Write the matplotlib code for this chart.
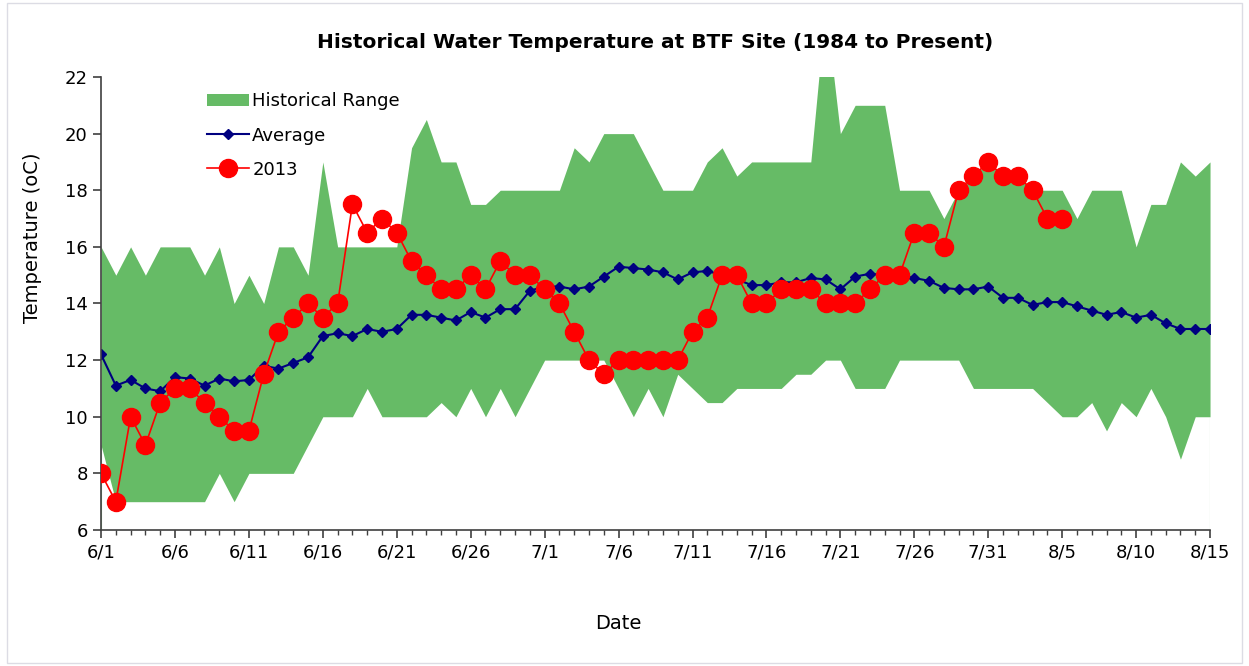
import matplotlib
matplotlib.use("Agg")
import matplotlib.pyplot as plt
import numpy as np
from matplotlib.patches import Rectangle

# days since 6/1 (6/1 .. 8/15)
days = np.arange(76)
tick_labels = ["6/1", "6/6", "6/11", "6/16", "6/21", "6/26", "7/1", "7/6",
               "7/11", "7/16", "7/21", "7/26", "7/31", "8/5", "8/10", "8/15"]

hist_low = [9, 7, 7, 7, 7, 7, 7, 7, 8, 7, 8, 8, 8, 8, 9, 10, 10, 10, 11, 10,
            10, 10, 10, 10.5, 10, 11, 10, 11, 10, 11, 12, 12, 12, 12, 12, 11, 10, 11, 10, 11.5,
            11, 10.5, 10.5, 11, 11, 11, 11, 11.5, 11.5, 12, 12, 11, 11, 11, 12, 12, 12, 12, 12, 11,
            11, 11, 11, 11, 10.5, 10, 10, 10.5, 9.5, 10.5, 10, 11, 10, 8.5, 10, 10]
hist_high = [16, 15, 16, 15, 16, 16, 16, 15, 16, 14, 15, 14, 16, 16, 15, 19, 16, 16, 16, 16,
             16, 19.5, 20.5, 19, 19, 17.5, 17.5, 18, 18, 18, 18, 18, 19.5, 19, 20, 20, 20, 19, 18, 18,
             18, 19, 19.5, 18.5, 19, 19, 19, 19, 19, 24.5, 20, 21, 21, 21, 18, 18, 18, 17, 18, 18.5,
             19, 18.5, 18.5, 18, 18, 18, 17, 18, 18, 18, 16, 17.5, 17.5, 19, 18.5, 19]
average = [12.2, 11.1, 11.3, 11.0, 10.9, 11.4, 11.35, 11.1, 11.35, 11.25, 11.3, 11.8, 11.7, 11.9,
           12.1, 12.85, 12.95, 12.85, 13.1, 13.0, 13.1, 13.6, 13.6, 13.5, 13.4, 13.7, 13.5, 13.8,
           13.8, 14.45, 14.6, 14.6, 14.5, 14.6, 14.95, 15.3, 15.25, 15.2, 15.1, 14.85, 15.1, 15.15,
           15.0, 14.85, 14.65, 14.65, 14.75, 14.75, 14.9, 14.85, 14.5, 14.95, 15.05, 15.0, 15.0,
           14.9, 14.8, 14.55, 14.5, 14.5, 14.6, 14.2, 14.2, 13.95, 14.05, 14.05, 13.9, 13.75,
           13.6, 13.7, 13.5, 13.6, 13.3, 13.1, 13.1, 13.1]
temp_2013 = [8, 7, 10, 9, 10.5, 11, 11, 10.5, 10, 9.5, 9.5, 11.5, 13, 13.5, 14, 13.5, 14, 17.5,
             16.5, 17, 16.5, 15.5, 15, 14.5, 14.5, 15, 14.5, 15.5, 15, 15, 14.5, 14, 13, 12, 11.5,
             12, 12, 12, 12, 12, 13, 13.5, 15, 15, 14, 14, 14.5, 14.5, 14.5, 14, 14, 14, 14.5, 15,
             15, 16.5, 16.5, 16, 18, 18.5, 19, 18.5, 18.5, 18, 17, 17]

plt.rcParams['font.family'] = ['DejaVu Sans']

fig = plt.figure(figsize=(12.49, 6.66), dpi=100)
ax = fig.add_axes([0.0809, 0.2042, 0.8879, 0.6802])

green = '#66bb66'
ax.fill_between(days, hist_low, hist_high, color=green, lw=0, label='Historical Range')
ax.vlines([days[0], days[-1]], 6, [hist_low[0], hist_low[-1]], color=green, lw=0.8, alpha=0.6)
ax.plot(days, average, color='#000080', lw=1.5, marker='D', markersize=5.5,
        label='Average')
ax.plot(days[:len(temp_2013)], temp_2013, color='#ff0000', lw=1.2, marker='o',
        markersize=13, label='2013', zorder=4)

ax.set_xlim(0, 75)
ax.set_ylim(6, 22)
ax.set_yticks(np.arange(6, 23, 2))
ax.set_xticks(days[::5])
ax.set_xticklabels(tick_labels)
ax.set_xticks(days, minor=True)

for s in ['top', 'right']:
    ax.spines[s].set_visible(False)
for s in ['left', 'bottom']:
    ax.spines[s].set_color('#404040')
    ax.spines[s].set_linewidth(1.2)
ax.tick_params(axis='both', which='major', direction='out', length=6, width=1.2,
               color='#404040', labelsize=13, labelcolor='black')
ax.tick_params(axis='x', which='minor', direction='out', length=3.5, width=1,
               color='#404040')
ax.tick_params(axis='x', pad=4)

ax.set_title('Historical Water Temperature at BTF Site (1984 to Present)',
             fontsize=14.5, fontweight='bold', pad=21)
ax.set_ylabel('Temperature (oC)', fontsize=14)
ax.yaxis.set_label_coords(-0.053, 0.645)
ax.set_xlabel('Date', fontsize=14)
ax.xaxis.set_label_coords(0.466, -0.186)

ax.legend(loc='upper left', bbox_to_anchor=(0.1585, 0.875), bbox_transform=fig.transFigure,
          frameon=False, fontsize=13, handlelength=2.3, handletextpad=0.2,
          labelspacing=0.9, borderpad=0)

fig.patches.append(Rectangle((0.006, 0.004), 0.988, 0.992, transform=fig.transFigure,
                             fill=False, ec='#dcdce4', lw=1))

fig.savefig('out.png', dpi=100)
